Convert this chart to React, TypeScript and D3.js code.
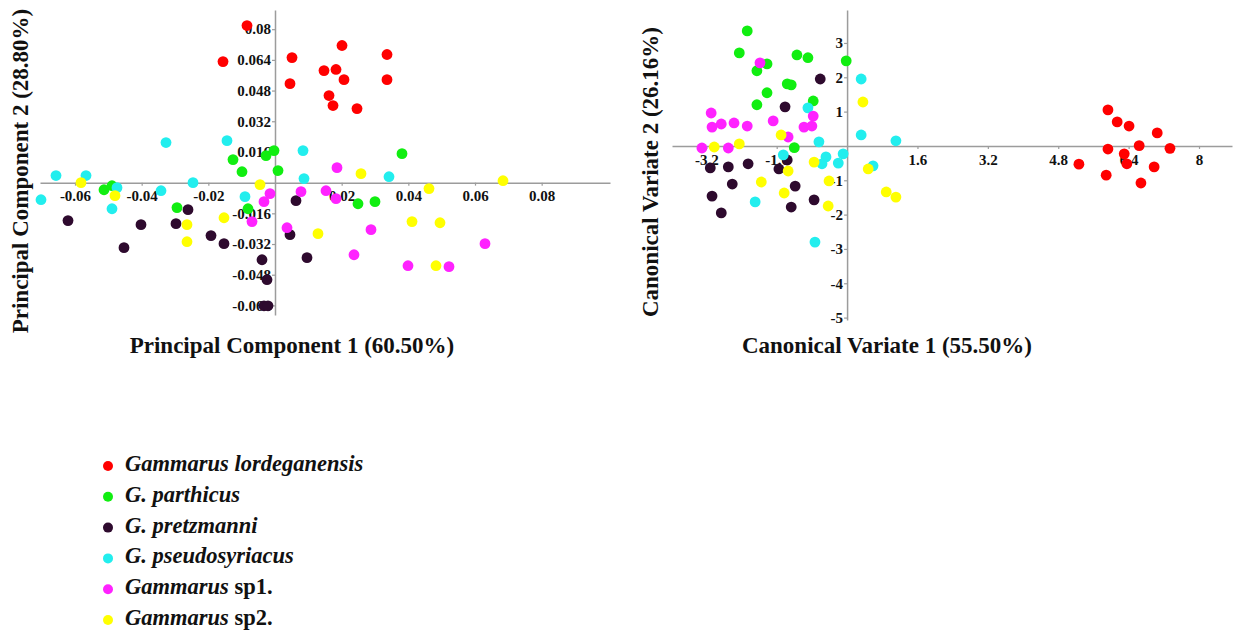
import React, { useEffect, useRef } from "react";
import * as d3 from "d3";

// species, legend text and colours
const speciesItalic = ["Gammarus lordeganensis", "G. parthicus", "G. pretzmanni", "G. pseudosyriacus", "Gammarus", "Gammarus"];
const speciesPlain = ["", "", "", "", " sp1.", " sp2."];
const speciesColors = ["#ff0000", "#11ee11", "#2e0a2e", "#22eeee", "#ff22ff", "#ffff00"];

// PCA scores [PC1, PC2]
const pcaLordeganensis = [[-0.0084, 0.0819], [-0.0156, 0.0631], [0.0051, 0.0652], [0.0045, 0.0516], [0.0201, 0.0715], [0.0336, 0.0668], [0.0147, 0.0584], [0.0183, 0.059], [0.0207, 0.0537], [0.0336, 0.0537], [0.0162, 0.0454], [0.0174, 0.0402], [0.0246, 0.0386]];
const pcaParthicus = [[-0.0513, -0.0037], [-0.0489, -0.0016], [-0.0294, -0.013], [-0.0126, 0.012], [-0.0099, 0.0057], [-0.0081, -0.0136], [-0.0027, 0.0141], [-0.0003, 0.0167], [0.0009, 0.0063], [0.0249, -0.011], [0.03, -0.0099], [0.0381, 0.0151]];
const pcaPretzmanni = [[-0.0621, -0.0198], [-0.0453, -0.0339], [-0.0402, -0.0219], [-0.0297, -0.0214], [-0.0261, -0.0141], [-0.0192, -0.0276], [-0.0153, -0.0318], [-0.0039, -0.0402], [-0.0024, -0.0506], [-0.0033, -0.0642], [-0.0021, -0.0642], [0.0063, -0.0094], [0.0045, -0.0271], [0.0096, -0.0391]];
const pcaPseudosyriacus = [[-0.0702, -0.0089], [-0.0657, 0.0037], [-0.0567, 0.0037], [-0.0474, -0.0026], [-0.0489, -0.0136], [-0.0327, 0.0209], [-0.0342, -0.0042], [-0.0246, 0.0], [-0.0144, 0.0219], [-0.009, -0.0073], [0.0084, 0.0167], [0.0087, 0.0021], [0.0342, 0.0031]];
const pcaSp1 = [[-0.0015, -0.0057], [-0.0033, -0.0099], [-0.0069, -0.0203], [0.0036, -0.0235], [0.0078, -0.0047], [0.0153, -0.0042], [0.0183, -0.0083], [0.0186, 0.0078], [0.0288, -0.0245], [0.0237, -0.0376], [0.0399, -0.0433], [0.0522, -0.0438], [0.063, -0.0318]];
const pcaSp2 = [[-0.0582, 0.0], [-0.048, -0.0068], [-0.0264, -0.0219], [-0.0264, -0.0308], [-0.0153, -0.0183], [-0.0045, -0.001], [0.0258, 0.0047], [0.0462, -0.0031], [0.0684, 0.001], [0.0411, -0.0203], [0.0495, -0.0209], [0.0483, -0.0433], [0.0129, -0.0266]];

// CVA scores [CV1, CV2]
const cvaLordeganensis = [[5.93, 1.05], [6.14, 0.7], [6.41, 0.58], [7.05, 0.38], [5.93, -0.09], [6.64, 0.01], [7.34, -0.07], [6.3, -0.23], [6.36, -0.52], [5.27, -0.53], [5.89, -0.85], [6.98, -0.61], [6.68, -1.08]];
const cvaParthicus = [[-2.27, 3.35], [-2.45, 2.71], [-2.05, 2.19], [-1.82, 2.39], [-1.14, 2.65], [-0.89, 2.57], [-0.02, 2.48], [-1.36, 1.81], [-1.27, 1.78], [-1.82, 1.55], [-2.05, 1.2], [-0.77, 1.31], [-1.2, -0.05]];
const cvaPretzmanni = [[-0.61, 1.95], [-1.41, 1.14], [-3.11, -0.64], [-2.7, -0.61], [-2.25, -0.52], [-1.55, -0.67], [-1.36, -0.41], [-2.61, -1.11], [-3.07, -1.46], [-2.86, -1.95], [-1.18, -1.17], [-1.27, -1.78], [-0.75, -1.57]];
const cvaPseudosyriacus = [[0.32, 1.95], [-0.89, 1.11], [0.32, 0.32], [1.11, 0.15], [-0.64, 0.12], [-1.45, -0.26], [-0.48, -0.32], [-0.57, -0.52], [-0.2, -0.5], [-0.09, -0.23], [0.59, -0.58], [-2.09, -1.63], [-0.73, -2.8]];
const cvaSp1 = [[-1.98, 2.42], [-3.09, 0.96], [-3.07, 0.55], [-2.86, 0.64], [-2.57, 0.67], [-2.27, 0.58], [-1.68, 0.73], [-1.34, 0.26], [-3.3, -0.06], [-2.7, -0.06], [-0.98, 0.55], [-0.8, 0.58], [-0.77, 0.87]];
const cvaSp2 = [[0.36, 1.28], [-1.5, 0.32], [-3.02, -0.03], [-2.45, 0.06], [-0.75, -0.47], [-1.34, -0.73], [0.48, -0.67], [-1.95, -1.05], [-0.41, -1.02], [-1.43, -1.37], [-0.43, -1.75], [0.89, -1.34], [1.11, -1.49]];

// axis ticks
const pcaXTicks = [-0.06, -0.04, -0.02, 0.02, 0.04, 0.06, 0.08];
const pcaYTicks = [0.08, 0.064, 0.048, 0.032, 0.016, -0.016, -0.032, -0.048, -0.064];
const cvaXTicks = [-3.2, -1.6, 1.6, 3.2, 4.8, 6.4, 8];
const cvaYTicks = [3, 2, 1, -1, -2, -3, -4, -5];

const FONT = "'Liberation Serif', 'Times New Roman', serif";
const AXIS_COLOR = "#9c9c9c";

function drawPanel(svg, opts) {
    const { x, y, xTicks, yTicks, groups, xTitle, yTitle, xTitlePos, yTitlePos } = opts;
    const g = svg.append("g");

    const styleAxis = (sel) => {
        sel.attr("font-family", FONT).attr("font-size", 15).attr("font-weight", "bold");
        sel.select(".domain").attr("stroke", AXIS_COLOR).attr("stroke-width", 1.5);
        sel.selectAll(".tick line").attr("stroke", AXIS_COLOR).attr("stroke-width", 1.2);
        sel.selectAll(".tick text").attr("fill", "#111");
    };

    // horizontal axis through y = 0
    g.append("g")
        .attr("transform", `translate(0, ${y(0)})`)
        .call(d3.axisBottom(x).tickValues(xTicks).tickSize(3).tickSizeOuter(0).tickPadding(5).tickFormat(d => String(d)))
        .call(styleAxis);

    // vertical axis through x = 0
    g.append("g")
        .attr("transform", `translate(${x(0)}, 0)`)
        .call(d3.axisLeft(y).tickValues(yTicks).tickSize(3).tickSizeOuter(0).tickPadding(1).tickFormat(d => String(d)))
        .call(styleAxis);

    // points
    groups.forEach((pts, i) => {
        g.append("g")
            .selectAll("circle")
            .data(pts)
            .join("circle")
            .attr("cx", d => x(d[0]))
            .attr("cy", d => y(d[1]))
            .attr("r", 5.4)
            .attr("fill", speciesColors[i]);
    });

    g.append("text")
        .attr("x", xTitlePos[0])
        .attr("y", xTitlePos[1])
        .attr("text-anchor", "middle")
        .attr("font-family", FONT)
        .attr("font-weight", "bold")
        .attr("font-size", 23)
        .attr("fill", "#111")
        .text(xTitle);

    g.append("text")
        .attr("transform", `translate(${yTitlePos[0]}, ${yTitlePos[1]}) rotate(-90)`)
        .attr("text-anchor", "middle")
        .attr("font-family", FONT)
        .attr("font-weight", "bold")
        .attr("font-size", 23)
        .attr("fill", "#111")
        .text(yTitle);
}

export default function App() {
    const ref = useRef(null);

    useEffect(() => {
        const svg = d3.select(ref.current);
        svg.selectAll("*").remove();

        // left panel: PCA
        const xPca = d3.scaleLinear().domain([-0.0705, 0.1005]).range([40, 610]);
        const yPca = d3.scaleLinear().domain([-0.069, 0.09]).range([315, 10]);
        drawPanel(svg, {
            x: xPca, y: yPca, xTicks: pcaXTicks, yTicks: pcaYTicks,
            groups: [pcaLordeganensis, pcaParthicus, pcaPretzmanni, pcaPseudosyriacus, pcaSp1, pcaSp2],
            xTitle: "Principal Component 1 (60.50%)", yTitle: "Principal Component 2 (28.80%)",
            xTitlePos: [292, 353], yTitlePos: [28, 171]
        });

        // right panel: CVA
        const xCva = d3.scaleLinear().domain([-3.98, 8.75]).range([672, 1232]);
        const yCva = d3.scaleLinear().domain([-5.07, 3.96]).range([320, 10]);
        drawPanel(svg, {
            x: xCva, y: yCva, xTicks: cvaXTicks, yTicks: cvaYTicks,
            groups: [cvaLordeganensis, cvaParthicus, cvaPretzmanni, cvaPseudosyriacus, cvaSp1, cvaSp2],
            xTitle: "Canonical Variate 1 (55.50%)", yTitle: "Canonical Variate 2 (26.16%)",
            xTitlePos: [887, 353], yTitlePos: [658, 172]
        });

        // legend
        const legendY = d3.scaleLinear().domain([0, speciesItalic.length - 1]).range([466, 620]);
        const legend = svg.append("g");
        speciesItalic.forEach((name, i) => {
            const cy = legendY(i);
            legend.append("circle")
                .attr("cx", 108)
                .attr("cy", cy)
                .attr("r", 5)
                .attr("fill", speciesColors[i]);
            const t = legend.append("text")
                .attr("x", 125)
                .attr("y", cy + 5)
                .attr("font-family", FONT)
                .attr("font-weight", "bold")
                .attr("font-size", 22.5)
                .attr("fill", "#111");
            t.append("tspan").attr("font-style", "italic").text(name);
            if (speciesPlain[i]) t.append("tspan").text(speciesPlain[i]);
        });
    }, []);

    return (
        <svg
            ref={ref}
            width={1235}
            height={630}
            style={{ position: "absolute", left: 0, top: 0, background: "#fff" }}
        />
    );
}
